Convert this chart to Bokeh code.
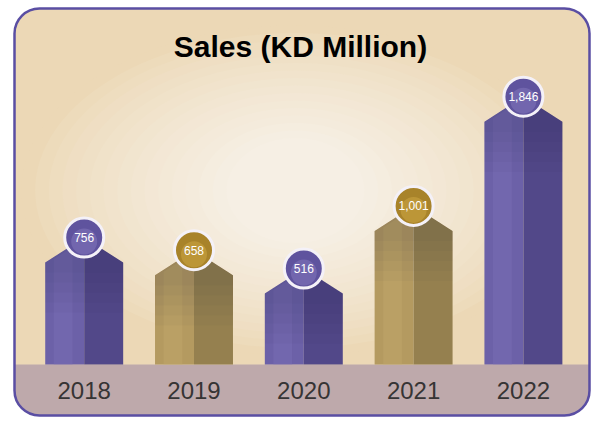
from bokeh.plotting import figure
from bokeh.models import Range1d, BoxAnnotation, Label
from bokeh.embed import file_html
from bokeh.resources import INLINE
from bokeh.core.properties import value

# ---- data ----
years = ["2018", "2019", "2020", "2021", "2022"]
sales = [756, 658, 516, 1001, 1846]
bar_style = ["purple", "gold", "purple", "gold", "purple"]
title_text = "Sales (KD Million)"

# ---- styles ----
STY = {
    "purple": dict(left="#6c61a8", band="#7c71b7", right="#524889", circ="#5f539e", hi="#8a7fc2"),
    "gold": dict(left="#b49a60", band="#c3a96d", right="#95804f", circ="#a8832a", hi="#d4ac48"),
}

W, H = 593, 422
PX_X = 109.8
X0 = -83.7 / PX_X
X1 = X0 + W / PX_X
Y0, Y1 = -675, 2590


def dx(fx):
    return X0 + fx * (X1 - X0) / W


def dy(fy):
    return Y1 - fy * (Y1 - Y0) / H


def ppy(px):
    return px * (Y1 - Y0) / H


p = figure(width=W, height=H, x_range=Range1d(X0, X1), y_range=Range1d(Y0, Y1),
           x_axis_type=None, y_axis_type=None, output_backend="svg",
           toolbar_location=None, min_border=0, outline_line_color=None,
           background_fill_color="white", border_fill_color="white")

L, R, T, B = dx(14), dx(589), dy(8), dy(415)
RAD = 25
bg = BoxAnnotation(left=L, right=R, top=T, bottom=B, fill_color="#ecd8b6", fill_alpha=1,
                   line_color=None, border_radius=RAD, level="underlay")
p.add_layout(bg)
strip = BoxAnnotation(left=L, right=R, top=dy(364), bottom=B, fill_color="#bea9ab", fill_alpha=1,
                      line_color=None,
                      border_radius=dict(top_left=0, top_right=0, bottom_right=RAD, bottom_left=RAD),
                      level="underlay")
p.add_layout(strip)

# soft radial light in the background
n = 16
c0 = (236, 216, 182)
c1 = (246, 239, 228)
ws, hs, cols = [], [], []
for k in range(n):
    t = k / (n - 1)
    ws.append(548 - t * 410)
    hs.append(330 - t * 225)
    tt = t ** 0.8
    c = tuple(int(round(c0[j] + (c1[j] - c0[j]) * tt)) for j in range(3))
    cols.append("#%02x%02x%02x" % c)
p.ellipse(x=[dx(295)] * n, y=[dy(190)] * n, width=ws, height=hs,
          width_units="screen", height_units="screen", fill_color=cols, line_color=None)

# ---- bars ----
idx = list(range(len(years)))
hw = 0.355
base = dy(364)
shoulder_off = ppy(25)
lxs, lys, lcol, rxs, rys, rcol, bxs, bys, bcol = [], [], [], [], [], [], [], [], []
for i, v in zip(idx, sales):
    s = STY[bar_style[i]]
    sh = v - shoulder_off
    lxs.append([i - hw, i - hw, i, i])
    lys.append([base, sh, v, base])
    lcol.append(s["left"])
    rxs.append([i, i, i + hw, i + hw])
    rys.append([base, v, sh, base])
    rcol.append(s["right"])
    a, b = i - hw * 0.78, i - hw * 0.3
    bxs.append([a, a, b, b])
    bys.append([base, sh + (a - (i - hw)) / hw * shoulder_off - ppy(2),
                sh + (b - (i - hw)) / hw * shoulder_off - ppy(2), base])
    bcol.append(s["band"])
p.patches(xs=lxs, ys=lys, fill_color=lcol, line_color=None)
p.patches(xs=bxs, ys=bys, fill_color=bcol, fill_alpha=0.4, line_color=None)
p.patches(xs=rxs, ys=rys, fill_color=rcol, line_color=None)

# soft darker top of each prism (layered)
for d in (10, 20, 30, 40, 50):
    sx, sy = [], []
    for i, v in zip(idx, sales):
        sh = v - shoulder_off
        lo = max(base, sh - ppy(d))
        sx.append([i - hw, i - hw, i, i + hw, i + hw])
        sy.append([lo, sh, v, sh, lo])
    p.patches(xs=sx, ys=sy, fill_color="#1e1640", fill_alpha=0.03, line_color=None)

# ---- value bubbles ----
p.scatter(x=idx, y=sales, size=39, fill_color=[STY[b]["circ"] for b in bar_style],
          line_color="#f4f1f8", line_width=3)
p.scatter(x=idx, y=[v - ppy(4) for v in sales], size=26,
          fill_color=[STY[b]["hi"] for b in bar_style], fill_alpha=0.45, line_color=None)
p.text(x=idx, y=sales, text=[f"{v:,}" for v in sales], text_align="center",
       text_baseline="middle", text_font=value("Liberation Sans"), text_font_size="12px",
       text_color="#ffffff")

# ---- year labels ----
p.text(x=idx, y=[dy(390)] * len(years), text=years, text_align="center",
       text_baseline="middle", text_font=value("Liberation Sans"),
       text_font_size="24px", text_color="#363434")

# ---- title ----
p.add_layout(Label(x=dx(300), y=dy(46), text=title_text, text_align="center",
                   text_baseline="middle", text_font="Liberation Sans",
                   text_font_style="bold", text_font_size="30px", text_color="#000000"))

border = BoxAnnotation(left=L, right=R, top=T, bottom=B, fill_alpha=0, line_color="#5a4ea3",
                       line_alpha=1, line_width=2.5, border_radius=RAD, level="overlay")
p.add_layout(border)

open("out.html", "w").write(file_html(p, INLINE))
